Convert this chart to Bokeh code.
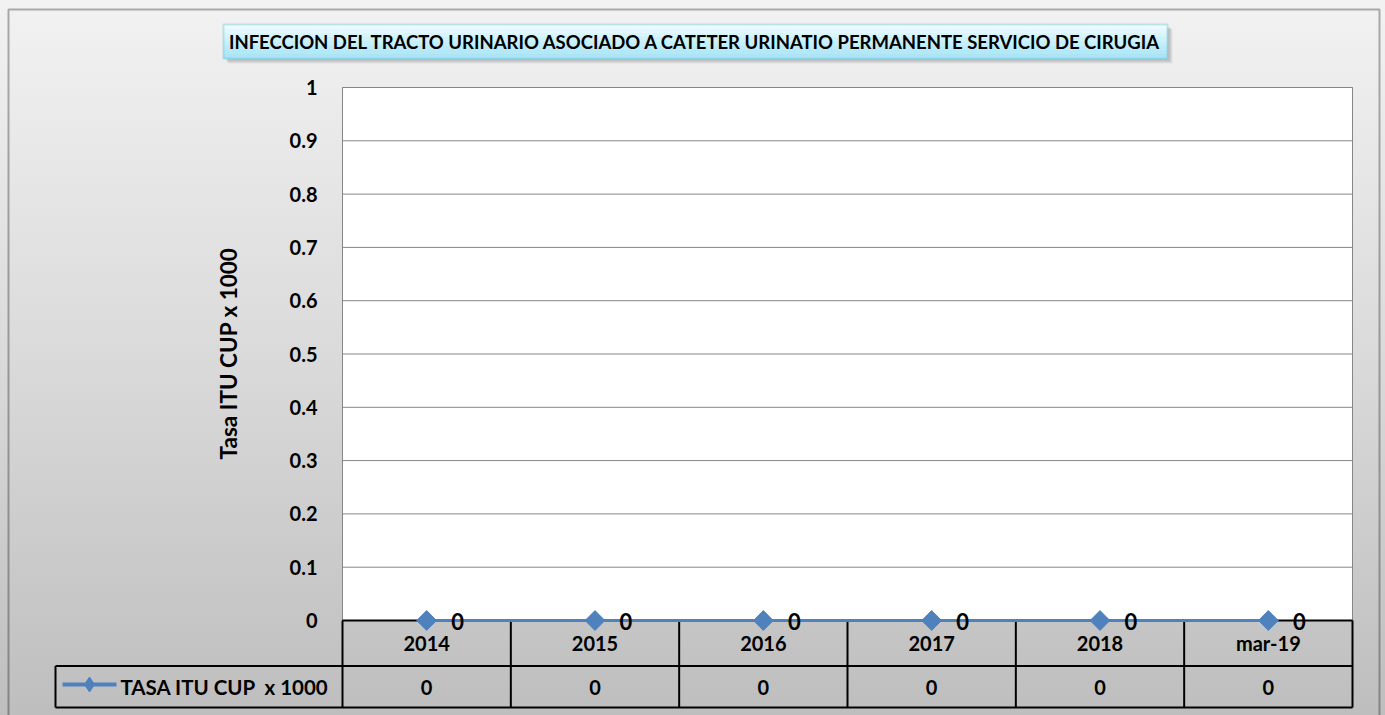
import math
from bokeh.plotting import figure
from bokeh.models import (Range1d, BoxAnnotation, Label, LabelSet, ColumnDataSource)
from bokeh.core.properties import value
from bokeh.embed import file_html
from bokeh.resources import INLINE

# ---------------- data ----------------
categories = ["2014", "2015", "2016", "2017", "2018", "mar-19"]
tasa_itu = [0, 0, 0, 0, 0, 0]
series_name = "TASA ITU CUP\u00a0 x 1000"
title_text = "INFECCION DEL TRACTO URINARIO ASOCIADO A CATETER URINATIO PERMANENTE SERVICIO DE CIRUGIA"
y_label = "Tasa ITU CUP x 1000"
y_ticks = [0, 0.1, 0.2, 0.3, 0.4, 0.5, 0.6, 0.7, 0.8, 0.9, 1.0]

# ---------------- layout (page px) ----------------
W, H = 1385, 715
PL, PR, PT, P0 = 342, 1352, 87, 620          # plot area: left, right, top, y=0 line
NCAT = len(categories)
XU = (PR - PL) / NCAT                         # px per category
YU = (P0 - PT) / 1.0                          # px per unit of y


def xd(px):
    return (px - PL) / XU


def yd(py):
    return (P0 - py) / YU


FONT = "Lato"
BLUE = "#4f81bd"
GRID = "#868686"

p = figure(width=W, height=H,
           x_range=Range1d(xd(0), xd(W)), y_range=Range1d(yd(H), yd(0)),
           output_backend="svg", toolbar_location=None,
           x_axis_location=None, y_axis_location=None, min_border=0)
p.background_fill_alpha = 0
p.border_fill_alpha = 0
p.outline_line_color = None
p.grid.visible = False
p.styles = {"background": "linear-gradient(to bottom, #f2f2f2 0%, #dadada 50%, #bebebe 100%)"}

xc = [i + 0.5 for i in range(NCAT)]           # category centres on the x scale

# white plot area + gridlines
p.quad(left=0, right=NCAT, bottom=0, top=y_ticks[-1], fill_color="white",
       line_color=GRID, line_width=1)
p.segment(x0=[0] * (len(y_ticks) - 1), y0=y_ticks[1:], x1=[NCAT] * (len(y_ticks) - 1),
          y1=y_ticks[1:], line_color=GRID, line_width=1)

# y tick labels
tick_src = ColumnDataSource(dict(x=[0] * len(y_ticks), y=y_ticks, t=[f"{t:g}" for t in y_ticks]))
p.add_layout(LabelSet(x="x", y="y", text="t", source=tick_src, x_offset=-25,
                      text_align="right", text_baseline="middle",
                      text_font=value(FONT), text_font_style="bold", text_font_size="20px",
                      text_color="black"))

# ---------------- data table ----------------
ROW_SEP, TABLE_B, LEG_L = 665.5, 707, 55
hx0 = [0, xd(LEG_L), xd(LEG_L)]
hx1 = [NCAT, NCAT, NCAT]
hy = [0, yd(ROW_SEP), yd(TABLE_B)]
p.segment(x0=hx0, y0=hy, x1=hx1, y1=hy, line_color="black", line_width=2)
vx = list(range(NCAT + 1))
p.segment(x0=vx, y0=[0] * len(vx), x1=vx, y1=[yd(TABLE_B)] * len(vx),
          line_color="black", line_width=2)
p.segment(x0=[xd(LEG_L)], y0=[yd(ROW_SEP)], x1=[xd(LEG_L)], y1=[yd(TABLE_B)],
          line_color="black", line_width=2)

cat_src = ColumnDataSource(dict(x=xc,
                                y1=[yd(642.5)] * NCAT,
                                y2=[yd(686.5)] * NCAT,
                                cat=categories,
                                vals=[f"{v:g}" for v in tasa_itu]))
p.add_layout(LabelSet(x="x", y="y1", text="cat", source=cat_src,
                      text_align="center", text_baseline="middle",
                      text_font=value(FONT), text_font_style="bold", text_font_size="20px",
                      text_color="black"))
p.add_layout(LabelSet(x="x", y="y2", text="vals", source=cat_src,
                      text_align="center", text_baseline="middle",
                      text_font=value(FONT), text_font_style="bold", text_font_size="20px",
                      text_color="black"))

# legend key in the table
p.segment(x0=[xd(62)], y0=[yd(684)], x1=[xd(116)], y1=[yd(684)], line_color=BLUE, line_width=4)
p.scatter(x=[xd(89)], y=[yd(684)], marker="diamond", size=15, fill_color=BLUE, line_color=BLUE)
p.add_layout(Label(x=120, y=686, x_units="canvas", y_units="canvas", text=series_name,
                   text_align="left", text_baseline="middle",
                   text_font=FONT, text_font_style="bold", text_font_size="20.5px",
                   text_color="black"))

# ---------------- series ----------------
p.line(xc, tasa_itu, line_color=BLUE, line_width=3)
p.scatter(xc, tasa_itu, marker="square", angle=math.pi / 4, size=14,
          fill_color=BLUE, line_color=BLUE)
pt_src = ColumnDataSource(dict(x=xc, y=tasa_itu, lbl=[f"{v:g}" for v in tasa_itu]))
p.add_layout(LabelSet(x="x", y="y", text="lbl", source=pt_src,
                      x_offset=31, y_offset=-1, text_align="center", text_baseline="middle",
                      text_font=value(FONT), text_font_style="bold", text_font_size="22px",
                      text_color="black"))

# ---------------- y label ----------------
p.add_layout(Label(x=228, y=353, x_units="canvas", y_units="canvas", text=y_label,
                   angle=math.pi / 2, text_align="center", text_baseline="middle",
                   text_font=FONT, text_font_style="bold", text_font_size="22.5px",
                   text_color="black"))

# ---------------- title box ----------------
TB_L, TB_R, TB_T, TB_B = 223, 1167, 24, 58
for k, a in [(5, 0.08), (4, 0.10), (3, 0.14)]:
    p.add_layout(BoxAnnotation(left=TB_L + k, right=TB_R + k, top=TB_T + k, bottom=TB_B + k,
                               left_units="canvas", right_units="canvas",
                               top_units="canvas", bottom_units="canvas",
                               fill_color="#555555", fill_alpha=a, line_color=None))
grad = ["#ecfbff", "#e2f8fe", "#d8f5fd", "#cef2fc", "#c4effb", "#bbebf9", "#b3e8f8", "#abe5f7"]
n = len(grad)
for j, c in enumerate(grad):
    t = TB_T + (TB_B - TB_T) * j / n
    b = TB_T + (TB_B - TB_T) * (j + 1) / n + 0.6
    p.add_layout(BoxAnnotation(left=TB_L, right=TB_R, top=t, bottom=b,
                               left_units="canvas", right_units="canvas",
                               top_units="canvas", bottom_units="canvas",
                               fill_color=c, fill_alpha=1, line_color=None))
p.add_layout(BoxAnnotation(left=TB_L, right=TB_R, top=TB_T, bottom=TB_B,
                           left_units="canvas", right_units="canvas",
                           top_units="canvas", bottom_units="canvas",
                           fill_alpha=0, line_color="#4bacc6", line_width=2))
p.add_layout(Label(x=(TB_L + TB_R) / 2, y=(TB_T + TB_B) / 2 + 0.5, x_units="canvas", y_units="canvas",
                   text=title_text, text_align="center", text_baseline="middle",
                   text_font=FONT, text_font_style="bold", text_font_size="18.5px",
                   text_color="black"))

# outer chart border
p.add_layout(BoxAnnotation(left=8, right=1379, top=9, bottom=H + 20,
                           left_units="canvas", right_units="canvas",
                           top_units="canvas", bottom_units="canvas",
                           fill_alpha=0, line_color="black", line_width=2))

open("out.html", "w").write(file_html(p, INLINE))
